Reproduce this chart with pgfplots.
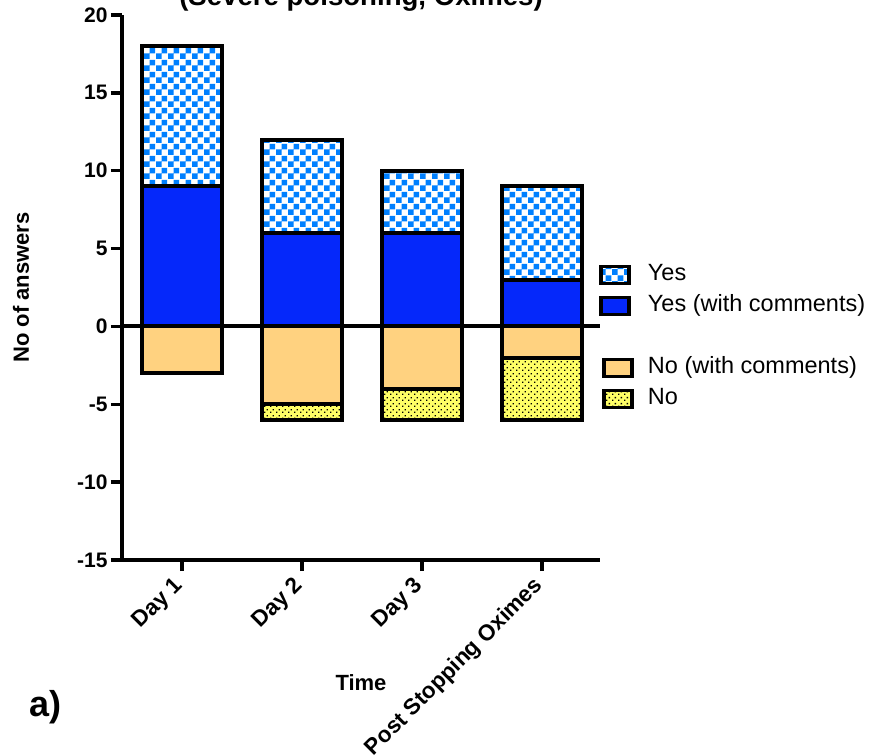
\documentclass[border=0pt]{standalone}
\usepackage{pgfplots}
\pgfplotsset{compat=1.18}
\usepackage{pgfplotstable}
\usepackage{fontspec}
\setmainfont{Liberation Sans}
\usetikzlibrary{patterns}

\pgfdeclarepatternformonly{checker}{\pgfpointorigin}{\pgfpoint{12pt}{12pt}}{\pgfpoint{12pt}{12pt}}{%
  \pgfpathrectangle{\pgfpointorigin}{\pgfpoint{6pt}{6pt}}%
  \pgfpathrectangle{\pgfpoint{6pt}{6pt}}{\pgfpoint{6pt}{6pt}}%
  \pgfusepath{fill}}
\pgfdeclarepatternformonly{finedots}{\pgfpointorigin}{\pgfpoint{6pt}{6pt}}{\pgfpoint{6pt}{6pt}}{%
  \pgfpathrectangle{\pgfpointorigin}{\pgfpoint{1.6pt}{1.6pt}}%
  \pgfpathrectangle{\pgfpoint{3pt}{3pt}}{\pgfpoint{1.6pt}{1.6pt}}%
  \pgfusepath{fill}}

\definecolor{checkblue}{RGB}{0,128,255}
\definecolor{solidblue}{RGB}{5,40,250}
\definecolor{noorange}{RGB}{255,210,128}
\definecolor{noyellow}{RGB}{255,255,102}

% bar ends (Yes stacks on Yes (with comments); No stacks below No (with comments))
\pgfplotstableread{
x yestop yeswc notop nowc
0 18 9 -3 -3
1 12 6 -6 -5
2 10 6 -6 -4
3 9  3 -6 -2
}\data

\newcommand{\tickfont}{\fontsize{21}{25}\selectfont\bfseries}
\newcommand{\legfont}{\fontsize{23.5}{28}\selectfont}

\begin{document}
\begin{tikzpicture}
\begin{axis}[
  at={(122pt,195pt)}, anchor=south west,
  scale only axis, width=478pt, height=545pt,
  xmin=-0.5, xmax=3.483, ymin=-15, ymax=20,
  axis x line*=bottom, axis y line*=left,
  axis line style={line width=3.5pt},
  tick align=outside, major tick length=11pt,
  tick style={line width=3.5pt, black},
  ytick={-15,-10,-5,0,5,10,15,20},
  yticklabels={-15,-10,-5,0,5,10,15,20},
  yticklabel style={font=\tickfont},
  xtick={0,1,2,3},
  xticklabels={Day 1, Day 2, Day 3, Post Stopping Oximes},
  xticklabel style={rotate=45, anchor=east, font=\fontsize{22.5}{26}\selectfont\bfseries},
  xticklabel shift=9pt,
  xlabel={Time},
  xlabel style={at={(axis description cs:0.5,0)}, anchor=base, yshift=-130pt, font=\fontsize{22}{26}\selectfont\bfseries},
  ylabel={No of answers},
  ylabel style={at={(axis description cs:0,0.5)}, anchor=center, yshift=101pt, font=\fontsize{22}{26}\selectfont\bfseries},
  ybar, bar width=80pt,
  legend style={at={(rel axis cs:1,0.549)}, anchor=north west, xshift=-4pt,
    draw=none, fill=none, font=\legfont, row sep=7pt,
    cells={anchor=west},
    nodes={inner sep=1pt, text height=17pt, text depth=5pt}},
  clip=false,
]
\addplot[bar shift=0pt, preaction={fill=white},
  pattern=checker, pattern color=checkblue,
  draw=black, line width=4pt, forget plot]
  table[x=x, y=yestop]{\data};
\addplot[bar shift=0pt, fill=solidblue, draw=black, line width=4pt, forget plot]
  table[x=x, y=yeswc]{\data};
\addplot[bar shift=0pt, preaction={fill=noyellow},
  pattern=finedots, pattern color=black,
  draw=black, line width=4pt, forget plot]
  table[x=x, y=notop]{\data};
\addplot[bar shift=0pt, fill=noorange, draw=black, line width=4pt, forget plot]
  table[x=x, y=nowc]{\data};

\addlegendimage{legend image code/.code={
  \fill[white] (0pt,-8.5pt) rectangle (28pt,8.5pt);
  \fill[pattern=checker, pattern color=checkblue] (0pt,-8.5pt) rectangle (28pt,8.5pt);
  \draw[line width=3.5pt] (0pt,-8.5pt) rectangle (28pt,8.5pt);
  \path[draw=none, fill=none] (0pt,-0.1pt) rectangle (42pt,0.1pt);}}
\addlegendentry{Yes}
\addlegendimage{legend image code/.code={
  \draw[line width=3.5pt, fill=solidblue] (0pt,-8.5pt) rectangle (28pt,8.5pt);
  \path[draw=none, fill=none] (0pt,-0.1pt) rectangle (42pt,0.1pt);}}
\addlegendentry{Yes (with comments)}
\addlegendimage{empty legend}
\addlegendentry{}
\addlegendimage{legend image code/.code={
  \draw[line width=3.5pt, fill=noorange] (3pt,-8.5pt) rectangle (31pt,8.5pt);
  \path[draw=none, fill=none] (0pt,-0.1pt) rectangle (46pt,0.1pt);}}
\addlegendentry{No (with comments)}
\addlegendimage{legend image code/.code={
  \fill[noyellow] (3pt,-8.5pt) rectangle (31pt,8.5pt);
  \fill[pattern=finedots, pattern color=black] (3pt,-8.5pt) rectangle (31pt,8.5pt);
  \draw[line width=3.5pt] (3pt,-8.5pt) rectangle (31pt,8.5pt);
  \path[draw=none, fill=none] (0pt,-0.1pt) rectangle (46pt,0.1pt);}}
\addlegendentry{No}

\draw[line width=4pt] (axis cs:-0.5,0) -- (axis cs:3.483,0);
\end{axis}
\node[font=\fontsize{27.6}{32}\selectfont\bfseries, anchor=base] at (361pt,749pt) {(Severe poisoning, Oximes)};
\node[font=\fontsize{36}{40}\selectfont\bfseries, anchor=base west] at (26pt,38pt) {a)};
\pgfresetboundingbox
\useasboundingbox (0pt,0pt) rectangle (870pt,755pt);
\end{tikzpicture}
\end{document}
